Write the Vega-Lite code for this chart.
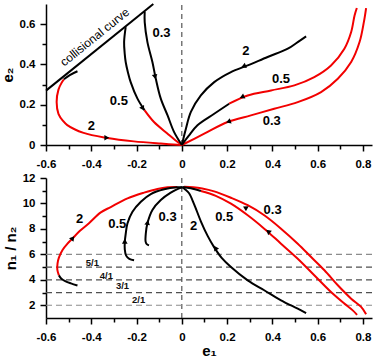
{
  "$schema": "https://vega.github.io/schema/vega-lite/v6.json",
  "padding": {"left": 0, "top": 0, "right": 0, "bottom": 0},
  "bounds": "flush",
  "spacing": 33,
  "config": {
    "view": {"stroke": null},
    "font": "Liberation Sans",
    "axis": {
      "labelFont": "Liberation Sans", "labelFontWeight": "bold", "labelFontSize": 11.5, "labelColor": "#000",
      "titleFont": "Liberation Sans", "titleFontWeight": "bold", "titleFontSize": 15, "titleColor": "#000",
      "domainColor": "#000", "tickColor": "#000", "domainWidth": 1.5, "tickWidth": 1.5, "grid": false,
      "labelFlush": false, "labelOverlap": false, "labelBound": false
    }
  },
  "datasets": {
    "topc": [
      {"s":"A","k":"k","o":1,"x":-0.461,"y":0.366},{"s":"A","k":"k","o":2,"x":-0.495,"y":0.347},{"s":"A","k":"k","o":3,"x":-0.521,"y":0.326},
      {"s":"B","k":"r","o":1,"x":-0.521,"y":0.326},{"s":"B","k":"r","o":2,"x":-0.531,"y":0.309},{"s":"B","k":"r","o":3,"x":-0.545,"y":0.275},{"s":"B","k":"r","o":4,"x":-0.553,"y":0.213},{"s":"B","k":"r","o":5,"x":-0.545,"y":0.155},{"s":"B","k":"r","o":6,"x":-0.525,"y":0.12},{"s":"B","k":"r","o":7,"x":-0.506,"y":0.099},{"s":"B","k":"r","o":8,"x":-0.434,"y":0.06},{"s":"B","k":"r","o":9,"x":-0.329,"y":0.035},{"s":"B","k":"r","o":10,"x":-0.212,"y":0.018},{"s":"B","k":"r","o":11,"x":-0.093,"y":0.007},{"s":"B","k":"r","o":12,"x":0,"y":0},
      {"s":"C","k":"k","o":1,"x":-0.248,"y":0.585},{"s":"C","k":"k","o":2,"x":-0.255,"y":0.511},{"s":"C","k":"k","o":3,"x":-0.252,"y":0.45},{"s":"C","k":"k","o":4,"x":-0.248,"y":0.412},{"s":"C","k":"k","o":5,"x":-0.238,"y":0.36},{"s":"C","k":"k","o":6,"x":-0.226,"y":0.312},{"s":"C","k":"k","o":7,"x":-0.196,"y":0.23},{"s":"C","k":"k","o":8,"x":-0.165,"y":0.173},
      {"s":"D","k":"r","o":1,"x":-0.165,"y":0.173},{"s":"D","k":"r","o":2,"x":-0.123,"y":0.114},{"s":"D","k":"r","o":3,"x":-0.063,"y":0.056},{"s":"D","k":"r","o":4,"x":-0.03,"y":0.025},{"s":"D","k":"r","o":5,"x":0,"y":0},
      {"s":"E","k":"k","o":1,"x":-0.164,"y":0.663},{"s":"E","k":"k","o":2,"x":-0.164,"y":0.61},{"s":"E","k":"k","o":3,"x":-0.152,"y":0.511},{"s":"E","k":"k","o":4,"x":-0.13,"y":0.412},{"s":"E","k":"k","o":5,"x":-0.115,"y":0.329},{"s":"E","k":"k","o":6,"x":-0.093,"y":0.23},{"s":"E","k":"k","o":7,"x":-0.063,"y":0.147},{"s":"E","k":"k","o":8,"x":-0.034,"y":0.064},{"s":"E","k":"k","o":9,"x":0,"y":0},
      {"s":"F","k":"k","o":1,"x":0,"y":0},{"s":"F","k":"k","o":2,"x":0.018,"y":0.081},{"s":"F","k":"k","o":3,"x":0.04,"y":0.164},{"s":"F","k":"k","o":4,"x":0.084,"y":0.246},{"s":"F","k":"k","o":5,"x":0.143,"y":0.312},{"s":"F","k":"k","o":6,"x":0.217,"y":0.362},{"s":"F","k":"k","o":7,"x":0.291,"y":0.395},{"s":"F","k":"k","o":8,"x":0.379,"y":0.437},{"s":"F","k":"k","o":9,"x":0.468,"y":0.478},{"s":"F","k":"k","o":10,"x":0.512,"y":0.511},{"s":"F","k":"k","o":11,"x":0.549,"y":0.539},
      {"s":"G","k":"k","o":1,"x":0,"y":0},{"s":"G","k":"k","o":2,"x":0.03,"y":0.045},{"s":"G","k":"k","o":3,"x":0.069,"y":0.098},{"s":"G","k":"k","o":4,"x":0.143,"y":0.155},{"s":"G","k":"k","o":5,"x":0.209,"y":0.205},
      {"s":"H","k":"r","o":1,"x":0.209,"y":0.205},{"s":"H","k":"r","o":2,"x":0.291,"y":0.246},{"s":"H","k":"r","o":3,"x":0.394,"y":0.271},{"s":"H","k":"r","o":4,"x":0.497,"y":0.296},{"s":"H","k":"r","o":5,"x":0.585,"y":0.337},{"s":"H","k":"r","o":6,"x":0.659,"y":0.395},{"s":"H","k":"r","o":7,"x":0.718,"y":0.478},{"s":"H","k":"r","o":8,"x":0.748,"y":0.561},{"s":"H","k":"r","o":9,"x":0.763,"y":0.643},{"s":"H","k":"r","o":10,"x":0.773,"y":0.68},
      {"s":"I","k":"r","o":1,"x":0,"y":0},{"s":"I","k":"r","o":2,"x":0.099,"y":0.056},{"s":"I","k":"r","o":3,"x":0.202,"y":0.114},{"s":"I","k":"r","o":4,"x":0.305,"y":0.147},{"s":"I","k":"r","o":5,"x":0.408,"y":0.18},{"s":"I","k":"r","o":6,"x":0.512,"y":0.213},{"s":"I","k":"r","o":7,"x":0.615,"y":0.263},{"s":"I","k":"r","o":8,"x":0.689,"y":0.329},{"s":"I","k":"r","o":9,"x":0.748,"y":0.412},{"s":"I","k":"r","o":10,"x":0.785,"y":0.511},{"s":"I","k":"r","o":11,"x":0.804,"y":0.61},{"s":"I","k":"r","o":12,"x":0.814,"y":0.68},
      {"s":"J","k":"k","o":1,"x":-0.6,"y":0.27},{"s":"J","k":"k","o":2,"x":-0.126,"y":0.7}
    ],
    "botc": [
      {"s":"A","k":"k","o":1,"x":-0.461,"y":3.55},{"s":"A","k":"k","o":2,"x":-0.49,"y":3.72},{"s":"A","k":"k","o":3,"x":-0.513,"y":3.88},{"s":"A","k":"k","o":4,"x":-0.532,"y":4.09},{"s":"A","k":"k","o":5,"x":-0.543,"y":4.35},
      {"s":"B","k":"r","o":1,"x":-0.543,"y":4.35},{"s":"B","k":"r","o":2,"x":-0.55,"y":4.8},{"s":"B","k":"r","o":3,"x":-0.549,"y":5.3},{"s":"B","k":"r","o":4,"x":-0.543,"y":5.75},{"s":"B","k":"r","o":5,"x":-0.527,"y":6.35},{"s":"B","k":"r","o":6,"x":-0.505,"y":6.85},{"s":"B","k":"r","o":7,"x":-0.484,"y":7.23},{"s":"B","k":"r","o":8,"x":-0.45,"y":7.85},{"s":"B","k":"r","o":9,"x":-0.41,"y":8.45},{"s":"B","k":"r","o":10,"x":-0.358,"y":9.3},{"s":"B","k":"r","o":11,"x":-0.314,"y":9.72},{"s":"B","k":"r","o":12,"x":-0.24,"y":10.4},{"s":"B","k":"r","o":13,"x":-0.167,"y":10.85},{"s":"B","k":"r","o":14,"x":-0.108,"y":11.14},{"s":"B","k":"r","o":15,"x":-0.063,"y":11.27},{"s":"B","k":"r","o":16,"x":-0.02,"y":11.3},
      {"s":"C","k":"k","o":1,"x":-0.211,"y":5.53},{"s":"C","k":"k","o":2,"x":-0.232,"y":5.65},{"s":"C","k":"k","o":3,"x":-0.246,"y":5.9},{"s":"C","k":"k","o":4,"x":-0.252,"y":6.4},{"s":"C","k":"k","o":5,"x":-0.252,"y":6.97},{"s":"C","k":"k","o":6,"x":-0.248,"y":7.6},{"s":"C","k":"k","o":7,"x":-0.24,"y":8.44},{"s":"C","k":"k","o":8,"x":-0.218,"y":9.35},{"s":"C","k":"k","o":9,"x":-0.181,"y":10.14},{"s":"C","k":"k","o":10,"x":-0.137,"y":10.74},{"s":"C","k":"k","o":11,"x":-0.078,"y":11.11},{"s":"C","k":"k","o":12,"x":-0.02,"y":11.27},{"s":"C","k":"k","o":13,"x":0.003,"y":11.28},
      {"s":"E","k":"k","o":1,"x":-0.145,"y":6.71},{"s":"E","k":"k","o":2,"x":-0.155,"y":6.8},{"s":"E","k":"k","o":3,"x":-0.16,"y":7.0},{"s":"E","k":"k","o":4,"x":-0.159,"y":7.66},{"s":"E","k":"k","o":5,"x":-0.152,"y":8.44},{"s":"E","k":"k","o":6,"x":-0.13,"y":9.49},{"s":"E","k":"k","o":7,"x":-0.093,"y":10.27},{"s":"E","k":"k","o":8,"x":-0.049,"y":10.85},{"s":"E","k":"k","o":9,"x":-0.012,"y":11.19},{"s":"E","k":"k","o":10,"x":0.003,"y":11.28},
      {"s":"F","k":"k","o":1,"x":0.003,"y":11.28},{"s":"F","k":"k","o":2,"x":0.015,"y":11.1},{"s":"F","k":"k","o":3,"x":0.032,"y":10.8},{"s":"F","k":"k","o":4,"x":0.054,"y":9.95},{"s":"F","k":"k","o":5,"x":0.084,"y":8.6},{"s":"F","k":"k","o":6,"x":0.114,"y":7.45},{"s":"F","k":"k","o":7,"x":0.143,"y":6.55},{"s":"F","k":"k","o":8,"x":0.175,"y":5.75},{"s":"F","k":"k","o":9,"x":0.217,"y":5.01},{"s":"F","k":"k","o":10,"x":0.291,"y":3.96},{"s":"F","k":"k","o":11,"x":0.364,"y":3.18},{"s":"F","k":"k","o":12,"x":0.438,"y":2.39},{"s":"F","k":"k","o":13,"x":0.512,"y":1.73},{"s":"F","k":"k","o":14,"x":0.549,"y":1.39},
      {"s":"G","k":"k","o":1,"x":0.003,"y":11.3},{"s":"G","k":"k","o":2,"x":0.04,"y":11.2},{"s":"G","k":"k","o":3,"x":0.084,"y":10.98},
      {"s":"H","k":"r","o":1,"x":0.084,"y":10.98},{"s":"H","k":"r","o":2,"x":0.15,"y":10.6},{"s":"H","k":"r","o":3,"x":0.217,"y":9.98},{"s":"H","k":"r","o":4,"x":0.291,"y":9.07},{"s":"H","k":"r","o":5,"x":0.364,"y":8.02},{"s":"H","k":"r","o":6,"x":0.438,"y":6.84},{"s":"H","k":"r","o":7,"x":0.512,"y":5.66},{"s":"H","k":"r","o":8,"x":0.585,"y":4.36},{"s":"H","k":"r","o":9,"x":0.659,"y":3.04},{"s":"H","k":"r","o":10,"x":0.718,"y":2.13},{"s":"H","k":"r","o":11,"x":0.755,"y":1.6},{"s":"H","k":"r","o":12,"x":0.774,"y":1.25},
      {"s":"I","k":"r","o":1,"x":0.01,"y":11.31},{"s":"I","k":"r","o":2,"x":0.05,"y":11.28},{"s":"I","k":"r","o":3,"x":0.09,"y":11.18},{"s":"I","k":"r","o":4,"x":0.143,"y":10.95},{"s":"I","k":"r","o":5,"x":0.217,"y":10.45},{"s":"I","k":"r","o":6,"x":0.291,"y":9.86},{"s":"I","k":"r","o":7,"x":0.364,"y":9.07},{"s":"I","k":"r","o":8,"x":0.438,"y":8.02},{"s":"I","k":"r","o":9,"x":0.512,"y":6.84},{"s":"I","k":"r","o":10,"x":0.571,"y":5.79},{"s":"I","k":"r","o":11,"x":0.63,"y":4.75},{"s":"I","k":"r","o":12,"x":0.689,"y":3.57},{"s":"I","k":"r","o":13,"x":0.748,"y":2.52},{"s":"I","k":"r","o":14,"x":0.792,"y":1.87},{"s":"I","k":"r","o":15,"x":0.814,"y":1.3}
    ],
    "toplab": [
      {"x":-0.09,"y":0.557,"t":"0.3"},{"x":-0.278,"y":0.218,"t":"0.5"},{"x":-0.4,"y":0.095,"t":"2"},
      {"x":0.283,"y":0.465,"t":"2"},{"x":0.438,"y":0.326,"t":"0.5"},{"x":0.397,"y":0.118,"t":"0.3"}
    ],
    "botlab": [
      {"x":-0.451,"y":8.8,"t":"2"},{"x":-0.285,"y":8.35,"t":"0.5"},{"x":-0.063,"y":8.9,"t":"0.3"},
      {"x":0.052,"y":8.25,"t":"2"},{"x":0.187,"y":8.9,"t":"0.5"},{"x":0.401,"y":9.46,"t":"0.3"}
    ],
    "toparr": [
      {"x":-0.335,"y":0.036,"a":90},{"x":-0.174,"y":0.185,"a":150},{"x":-0.119,"y":0.342,"a":168},
      {"x":0.276,"y":0.392,"a":248},{"x":0.269,"y":0.240,"a":246},{"x":0.209,"y":0.117,"a":250}
    ],
    "botarr": [
      {"x":-0.484,"y":7.23,"a":38},{"x":-0.252,"y":6.97,"a":0},{"x":-0.152,"y":8.44,"a":9},
      {"x":0.15,"y":6.45,"a":328},{"x":0.283,"y":9.64,"a":299},{"x":0.384,"y":7.76,"a":310}
    ],
    "vtop": [{"x":0,"y":0,"y2":0.7}],
    "vbot": [{"x":0,"y":1,"y2":12}],
    "hl": [
      {"x":-0.6,"x2":0.84,"y":6,"g":"l"},{"x":-0.6,"x2":0.84,"y":5,"g":"d"},{"x":-0.6,"x2":0.84,"y":4,"g":"d"},{"x":-0.6,"x2":0.84,"y":3,"g":"d"},{"x":-0.6,"x2":0.84,"y":2,"g":"l"}
    ],
    "reslab": [
      {"x":-0.395,"y":5.35,"t":"5/1"},{"x":-0.333,"y":4.3,"t":"4/1"},{"x":-0.262,"y":3.49,"t":"3/1"},{"x":-0.191,"y":2.39,"t":"2/1"}
    ],
    "colltext": [{"x":-0.385,"y":0.536,"t":"collisional curve"}]
  },
  "vconcat": [
    {
      "width": 326, "height": 141,
      "resolve": {"axis": {"x": "independent", "y": "independent"}},
      "layer": [
        {
          "data": {"name": "vtop"},
          "mark": {"type": "rule", "strokeDash": [5, 4], "strokeWidth": 1, "color": "#333"},
          "encoding": {
            "x": {"field": "x", "type": "quantitative", "scale": {"domain": [-0.6, 0.84], "nice": false, "zero": false},
                  "axis": {"orient": "bottom", "values": [-0.5, -0.3, -0.1, 0.1, 0.3, 0.5, 0.7], "labels": false, "domain": false, "tickSize": 4, "title": null}},
            "y": {"field": "y", "type": "quantitative", "scale": {"domain": [0, 0.7], "nice": false, "zero": false},
                  "axis": {"orient": "left", "values": [0.1, 0.3, 0.5], "labels": false, "domain": false, "tickSize": 4, "title": null}},
            "y2": {"field": "y2"}
          }
        },
        {
          "data": {"name": "topc"},
          "transform": [{"filter": "datum.k == 'r'"}],
          "mark": {"type": "line", "interpolate": "catmull-rom", "strokeWidth": 2, "color": "#f20000"},
          "encoding": {
            "x": {"field": "x", "type": "quantitative", "scale": {"domain": [-0.6, 0.84], "nice": false, "zero": false},
                  "axis": {"orient": "bottom", "values": [-0.6, -0.4, -0.2, 0, 0.2, 0.4, 0.6, 0.8], "tickSize": 6, "labelPadding": 7, "title": null,
                           "labelExpr": "datum.value == 0 ? '0' : (datum.value < 0 ? '-' : '') + format(abs(datum.value), '.1f')"}},
            "y": {"field": "y", "type": "quantitative", "scale": {"domain": [0, 0.7], "nice": false, "zero": false},
                  "axis": {"orient": "left", "values": [0, 0.2, 0.4, 0.6], "tickSize": 6, "labelPadding": 5, "title": "e₂", "titlePadding": 4,
                           "labelExpr": "datum.value == 0 ? '0' : format(datum.value, '.1f')"}},
            "detail": {"field": "s"},
            "order": {"field": "o", "type": "quantitative"}
          }
        },
        {
          "data": {"name": "topc"},
          "transform": [{"filter": "datum.k == 'k'"}],
          "mark": {"type": "line", "interpolate": "catmull-rom", "strokeWidth": 2, "color": "#000"},
          "encoding": {
            "x": {"field": "x", "type": "quantitative", "axis": null},
            "y": {"field": "y", "type": "quantitative", "axis": null},
            "detail": {"field": "s"},
            "order": {"field": "o", "type": "quantitative"}
          }
        },
        {
          "data": {"name": "toparr"},
          "mark": {"type": "point", "shape": "triangle", "filled": true, "color": "#000", "size": 32, "opacity": 1},
          "encoding": {
            "x": {"field": "x", "type": "quantitative", "axis": null},
            "y": {"field": "y", "type": "quantitative", "axis": null},
            "angle": {"field": "a", "type": "quantitative", "scale": null}
          }
        },
        {
          "data": {"name": "toplab"},
          "mark": {"type": "text", "font": "Liberation Sans", "fontWeight": "bold", "fontSize": 13, "color": "#000"},
          "encoding": {
            "x": {"field": "x", "type": "quantitative", "axis": null},
            "y": {"field": "y", "type": "quantitative", "axis": null},
            "text": {"field": "t"}
          }
        },
        {
          "data": {"name": "colltext"},
          "mark": {"type": "text", "font": "Liberation Sans", "fontSize": 12, "angle": 321, "color": "#000"},
          "encoding": {
            "x": {"field": "x", "type": "quantitative", "axis": null},
            "y": {"field": "y", "type": "quantitative", "axis": null},
            "text": {"field": "t"}
          }
        }
      ]
    },
    {
      "width": 326, "height": 140,
      "resolve": {"axis": {"x": "independent", "y": "independent"}},
      "layer": [
        {
          "data": {"name": "vbot"},
          "mark": {"type": "rule", "strokeDash": [5, 4], "strokeWidth": 1, "color": "#333"},
          "encoding": {
            "x": {"field": "x", "type": "quantitative", "scale": {"domain": [-0.6, 0.84], "nice": false, "zero": false},
                  "axis": {"orient": "bottom", "values": [-0.5, -0.3, -0.1, 0.1, 0.3, 0.5, 0.7], "labels": false, "domain": false, "tickSize": 4, "title": null}},
            "y": {"field": "y", "type": "quantitative", "scale": {"domain": [1, 12], "nice": false, "zero": false},
                  "axis": {"orient": "left", "values": [3, 5, 7, 9, 11], "labels": false, "domain": false, "tickSize": 4, "title": null}},
            "y2": {"field": "y2"}
          }
        },
        {
          "data": {"name": "hl"},
          "mark": {"type": "rule", "strokeDash": [6, 4], "strokeWidth": 1.2},
          "encoding": {
            "x": {"field": "x", "type": "quantitative", "axis": null},
            "x2": {"field": "x2"},
            "y": {"field": "y", "type": "quantitative", "axis": null},
            "color": {"field": "g", "type": "nominal", "scale": {"domain": ["d", "l"], "range": ["#505050", "#8c8c8c"]}, "legend": null}
          }
        },
        {
          "data": {"name": "botc"},
          "transform": [{"filter": "datum.k == 'r'"}],
          "mark": {"type": "line", "interpolate": "catmull-rom", "strokeWidth": 2, "color": "#f20000"},
          "encoding": {
            "x": {"field": "x", "type": "quantitative", "scale": {"domain": [-0.6, 0.84], "nice": false, "zero": false},
                  "axis": {"orient": "bottom", "values": [-0.6, -0.4, -0.2, 0, 0.2, 0.4, 0.6, 0.8], "tickSize": 6, "labelPadding": 7, "title": "e₁", "titlePadding": 1,
                           "labelExpr": "datum.value == 0 ? '0' : (datum.value < 0 ? '-' : '') + format(abs(datum.value), '.1f')"}},
            "y": {"field": "y", "type": "quantitative", "scale": {"domain": [1, 12], "nice": false, "zero": false},
                  "axis": {"orient": "left", "values": [2, 4, 6, 8, 10, 12], "tickSize": 6, "labelPadding": 5, "title": "n₁ / n₂", "titlePadding": 4}},
            "detail": {"field": "s"},
            "order": {"field": "o", "type": "quantitative"}
          }
        },
        {
          "data": {"name": "botc"},
          "transform": [{"filter": "datum.k == 'k'"}],
          "mark": {"type": "line", "interpolate": "catmull-rom", "strokeWidth": 2, "color": "#000"},
          "encoding": {
            "x": {"field": "x", "type": "quantitative", "axis": null},
            "y": {"field": "y", "type": "quantitative", "axis": null},
            "detail": {"field": "s"},
            "order": {"field": "o", "type": "quantitative"}
          }
        },
        {
          "data": {"name": "botarr"},
          "mark": {"type": "point", "shape": "triangle", "filled": true, "color": "#000", "size": 32, "opacity": 1},
          "encoding": {
            "x": {"field": "x", "type": "quantitative", "axis": null},
            "y": {"field": "y", "type": "quantitative", "axis": null},
            "angle": {"field": "a", "type": "quantitative", "scale": null}
          }
        },
        {
          "data": {"name": "botlab"},
          "mark": {"type": "text", "font": "Liberation Sans", "fontWeight": "bold", "fontSize": 13, "color": "#000"},
          "encoding": {
            "x": {"field": "x", "type": "quantitative", "axis": null},
            "y": {"field": "y", "type": "quantitative", "axis": null},
            "text": {"field": "t"}
          }
        },
        {
          "data": {"name": "reslab"},
          "mark": {"type": "text", "font": "Liberation Sans", "fontSize": 9.5, "fontWeight": "bold", "color": "#111"},
          "encoding": {
            "x": {"field": "x", "type": "quantitative", "axis": null},
            "y": {"field": "y", "type": "quantitative", "axis": null},
            "text": {"field": "t"}
          }
        }
      ]
    }
  ]
}
